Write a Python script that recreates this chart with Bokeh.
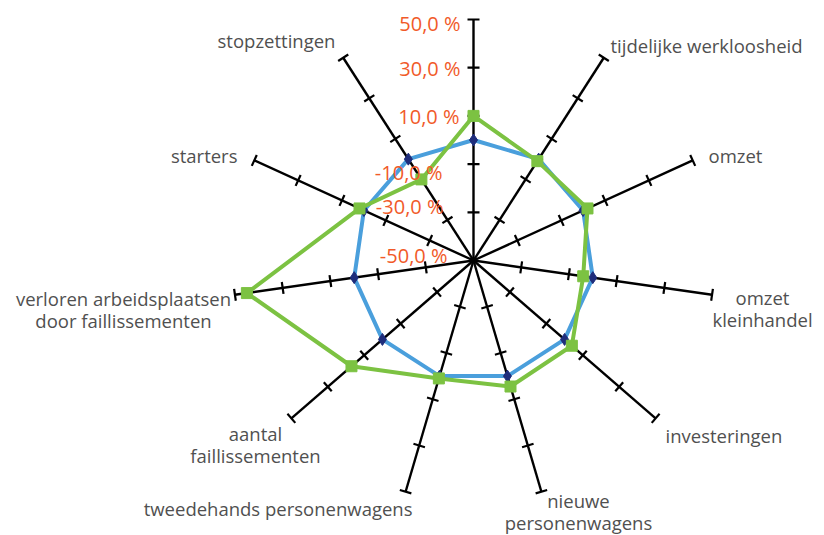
import math
from bokeh.plotting import figure
from bokeh.models import Range1d
from bokeh.core.properties import value
from bokeh.embed import file_html
from bokeh.resources import INLINE

# ---- data ----
categories = ["", "tijdelijke werkloosheid", "omzet", "omzet\nkleinhandel", "investeringen",
              "nieuwe\npersonenwagens", "tweedehands personenwagens", "aantal\nfaillissementen",
              "verloren arbeidsplaatsen\ndoor faillissementen", "starters", "stopzettingen"]
series_blue = [0, 0, 0, 0, 0, 0, 0, 0, 0, 0, 0]
series_green = [10, -1, 2, -4, 4, 4.5, 1, 17, 45, 2, -10]
tick_values = [-50, -30, -10, 10, 30, 50]
tick_labels = ["-50,0 %", "-30,0 %", "-10,0 %", "10,0 %", "30,0 %", "50,0 %"]

VMIN, VMAX = -50, 50
R = 241.0  # px radius of full scale
N = len(categories)
CX, CY = 473, 260  # centre in page pixels

def ang(i):
    return math.pi / 2 - 2 * math.pi * i / N

def pos(i, v):
    r = (v - VMIN) / (VMAX - VMIN) * R
    return r * math.cos(ang(i)), r * math.sin(ang(i))

W, H = 824, 535
p = figure(width=W, height=H, output_backend="svg", toolbar_location=None,
           x_range=Range1d(-CX, W - CX), y_range=Range1d(CY - H, CY),
           min_border=0)
p.axis.visible = False
p.grid.visible = False
p.outline_line_color = None
p.background_fill_color = "white"

# axes spokes
xs0, ys0, xs1, ys1 = [], [], [], []
for i in range(N):
    x, y = pos(i, VMAX)
    xs0.append(0); ys0.append(0); xs1.append(x); ys1.append(y)
p.segment(xs0, ys0, xs1, ys1, line_color="black", line_width=2.4)

# ticks (perpendicular)
tx0, ty0, tx1, ty1 = [], [], [], []
half = 6
for i in range(N):
    a = ang(i)
    nx, ny = -math.sin(a), math.cos(a)
    for v in tick_values[1:]:
        x, y = pos(i, v)
        tx0.append(x - nx * half); ty0.append(y - ny * half)
        tx1.append(x + nx * half); ty1.append(y + ny * half)
p.segment(tx0, ty0, tx1, ty1, line_color="black", line_width=2.2)

# series
def series_xy(vals):
    pts = [pos(i, v) for i, v in enumerate(vals)]
    return [q[0] for q in pts], [q[1] for q in pts]

bx, by = series_xy(series_blue)
p.line(bx + [bx[0]], by + [by[0]], line_color="#4a9fdc", line_width=4)
p.scatter(bx, by, marker="diamond", size=12, fill_color="#1f2d7b", line_color="#1f2d7b")

gx, gy = series_xy(series_green)
p.line(gx + [gx[0]], gy + [gy[0]], line_color="#7cc242", line_width=4)
p.scatter(gx, gy, marker="square", size=11, fill_color="#7cc242", line_color="#7cc242")

# value labels on the top axis (right edge x, vertical nudge in px)
tick_label_place = [(447, -5), (443, -6), (442, 8), (459, 1), (460, 1), (460, 4)]
lx, ly = [], []
for v, (rx, dy) in zip(tick_values, tick_label_place):
    x, y = pos(0, v)
    lx.append(rx - CX); ly.append(y - dy)
p.text(lx, ly, text=tick_labels, text_align="right", text_baseline="middle",
       text_color="#f15a29", text_font=value("Open Sans"), text_font_size="20px")

# category labels (page-pixel anchors)
label_anchor = [None, (610, 45, "left"), (708, 155, "left"), (762, 308, "center"),
                (665, 435, "left"), (578, 511, "center"), (412, 508, "right"),
                (255, 444, "center"), (123, 309, "center"), (237, 155, "right"),
                (276, 40, "center")]
line_h = 22
for cat, anc in zip(categories, label_anchor):
    if anc is None or not cat:
        continue
    sx, sy, al = anc
    lines = cat.split("\n")
    n = len(lines)
    for k, t in enumerate(lines):
        yy = sy + (k - (n - 1) / 2) * line_h
        p.text([sx - CX], [CY - yy], text=[t], text_align=al, text_baseline="middle",
               text_color="#505050", text_font=value("Open Sans"), text_font_size="18.5px")

open("out.html", "w").write(file_html(p, INLINE))
